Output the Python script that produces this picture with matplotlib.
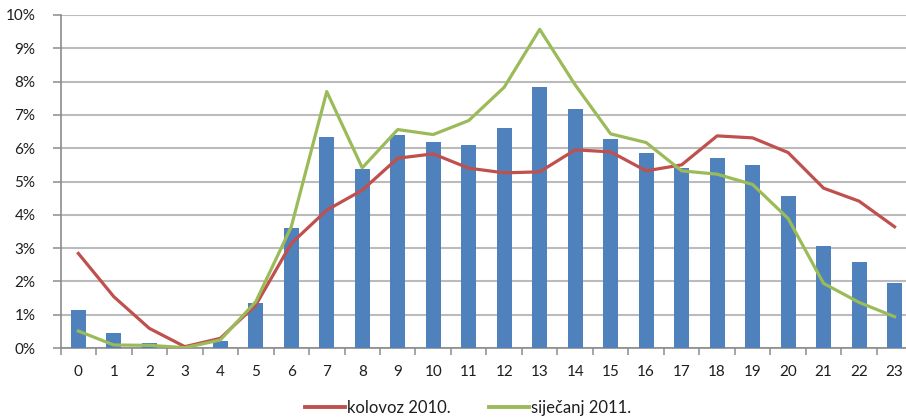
import matplotlib
matplotlib.use("Agg")
import matplotlib.pyplot as plt
from matplotlib.ticker import FixedLocator, FuncFormatter
from matplotlib.lines import Line2D

plt.rcParams['font.family'] = ['Lato', 'DejaVu Sans']

hours = list(range(24))
tick_labels = [str(h) for h in hours]

# hourly share (%) shown as columns
bar_share = [1.15, 0.44, 0.14, 0.02, 0.22, 1.34, 3.61, 6.35, 5.37, 6.40, 6.20, 6.10,
             6.60, 7.85, 7.19, 6.29, 5.87, 5.40, 5.72, 5.50, 4.55, 3.07, 2.58, 1.94]
# kolovoz 2010.
aug_2010 = [2.84, 1.54, 0.59, 0.04, 0.29, 1.29, 3.14, 4.14, 4.74, 5.70, 5.83, 5.40,
            5.26, 5.29, 5.95, 5.89, 5.32, 5.50, 6.37, 6.31, 5.87, 4.80, 4.41, 3.64]
# siječanj 2011.
jan_2011 = [0.51, 0.09, 0.08, 0.01, 0.24, 1.39, 3.64, 7.70, 5.41, 6.56, 6.41, 6.83,
            7.83, 9.57, 7.90, 6.43, 6.17, 5.32, 5.22, 4.91, 3.89, 1.94, 1.37, 0.94]

series_names = ['kolovoz 2010.', 'siječanj 2011.']

BLUE = '#4F81BD'
RED = '#C0504D'
GREEN = '#9BBB59'
GRID = '#BBBBBB'
AXIS = '#8C8C8C'
TEXT = '#1E1E1E'

W, H = 906, 420
fig = plt.figure(figsize=(W / 100, H / 100), dpi=100)
ax = fig.add_axes([60.6 / W, 72 / H, (912.3 - 60.6) / W, 333 / H])

ax.bar(hours, bar_share, width=0.42, color=BLUE, zorder=3)
ax.plot(hours, aug_2010, color=RED, lw=2.3, zorder=4, solid_joinstyle='round')
ax.plot(hours, jan_2011, color=GREEN, lw=2.3, zorder=5, solid_joinstyle='round')

ax.set_xlim(-0.5, 23.5)
ax.set_ylim(0, 10)

ax.yaxis.set_major_locator(FixedLocator(range(0, 11)))
ax.yaxis.set_major_formatter(FuncFormatter(lambda v, p: f"{int(round(v))}%"))
ax.set_xticks(hours)
ax.set_xticklabels(tick_labels)
ax.set_xticks([h + 0.5 for h in range(-1, 24)], minor=True)

ax.grid(axis='y', color=GRID, lw=1.5, zorder=0)
for s in ['top', 'right']:
    ax.spines[s].set_visible(False)
for s in ['left', 'bottom']:
    ax.spines[s].set_color(AXIS)
    ax.spines[s].set_linewidth(1.2)

ax.tick_params(axis='x', which='major', length=0, pad=12, labelsize=11, labelcolor=TEXT)
ax.tick_params(axis='x', which='minor', length=5, width=1.1, color=AXIS)
ax.tick_params(axis='y', which='major', length=6, width=1.1, color=AXIS, pad=12,
               labelsize=11, labelcolor=TEXT)

handles = [Line2D([], [], color=RED, lw=2.8), Line2D([], [], color=GREEN, lw=2.8)]
fig.legend(handles, series_names, loc='center', bbox_to_anchor=(468 / W, 1 - 408 / H),
           ncol=2, frameon=False, fontsize=12, handlelength=2.4, handletextpad=0.1,
           columnspacing=2.3, labelcolor=TEXT)

fig.savefig('out.png', dpi=100)
